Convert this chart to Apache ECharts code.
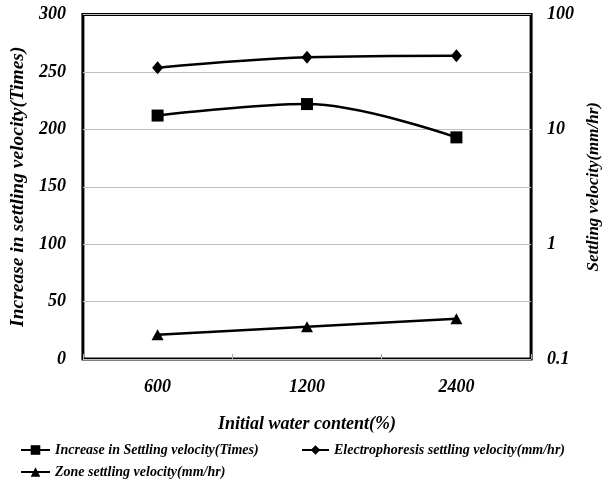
<!DOCTYPE html>
<html>
<head>
<meta charset="utf-8">
<script src="https://cdn.jsdelivr.net/npm/echarts@6/dist/echarts.min.js"></script>
<style>
  html, body { margin: 0; padding: 0; background: #fff; }
  #chart { width: 610px; height: 482px; }
</style>
</head>
<body>
<div id="chart"></div>
<script>
// categories (initial water content, %)
var waterContent = ['600', '1200', '2400'];
// left axis: increase in settling velocity (times)
var increaseTimes = [212, 222, 193];
// right axis (log): settling velocities, mm/hr
var electroVelocity = [34.4, 42.4, 43.8];
var zoneVelocity = [0.163, 0.191, 0.224];

var nameIncrease = 'Increase in Settling velocity(Times)';
var nameElectro = 'Electrophoresis settling velocity(mm/hr)';
var nameZone = 'Zone settling velocity(mm/hr)';

var serif = "'Liberation Serif', 'Times New Roman', serif";
var txt = function (size) {
  return { fontFamily: serif, fontStyle: 'italic', fontWeight: 'bold', fontSize: size, color: '#000' };
};

var chart = echarts.init(document.getElementById('chart'));
chart.setOption({
  animation: false,
  grid: {
    show: true,
    left: 79, right: 61, top: 14.5, bottom: 123,
    borderColor: '#000',
    borderWidth: 3
  },
  legend: [
    { data: [nameIncrease], left: 15, top: 438, itemWidth: 29, itemHeight: 12, itemGap: 0, textStyle: txt(14) },
    { data: [nameElectro], left: 296, top: 438, itemWidth: 27, itemHeight: 12, textStyle: txt(14) },
    { data: [nameZone], left: 15, top: 460, itemWidth: 29, itemHeight: 12, textStyle: txt(14) }
  ],
  xAxis: {
    type: 'category',
    data: waterContent,
    boundaryGap: true,
    name: 'Initial water content(%)',
    nameLocation: 'middle',
    nameGap: 56,
    nameTextStyle: txt(18),
    axisLine: { show: false },
    axisTick: { show: true, inside: true, length: 5, lineStyle: { color: '#aaa' } },
    axisLabel: Object.assign({ margin: 19 }, txt(18)),
    splitLine: { show: false }
  },
  yAxis: [
    {
      type: 'value',
      min: 0, max: 300, interval: 50,
      name: 'Increase in settling velocity(Times)',
      nameLocation: 'middle',
      nameRotate: 90,
      nameGap: 52,
      nameTextStyle: txt(19.5),
      axisLine: { show: false },
      axisTick: { show: false },
      axisLabel: Object.assign({ margin: 17 }, txt(18)),
      splitLine: { show: true, lineStyle: { color: '#c0c0c0', width: 1 } }
    },
    {
      type: 'log',
      logBase: 10,
      min: 0.1, max: 100,
      position: 'right',
      name: 'Settling velocity(mm/hr)',
      nameLocation: 'middle',
      nameRotate: 90,
      nameGap: 43,
      nameTextStyle: txt(17),
      axisLine: { show: false },
      axisTick: { show: false },
      axisLabel: Object.assign({ margin: 16 }, txt(18)),
      splitLine: { show: false }
    }
  ],
  series: [
    {
      name: nameIncrease,
      type: 'line',
      yAxisIndex: 0,
      data: increaseTimes,
      smooth: 0.35,
      symbol: 'rect',
      symbolSize: 12,
      lineStyle: { color: '#000', width: 2.5 },
      itemStyle: { color: '#000' }
    },
    {
      name: nameElectro,
      type: 'line',
      yAxisIndex: 1,
      data: electroVelocity,
      smooth: 0.35,
      symbol: 'diamond',
      symbolSize: [11, 13],
      lineStyle: { color: '#000', width: 2.5 },
      itemStyle: { color: '#000' }
    },
    {
      name: nameZone,
      type: 'line',
      yAxisIndex: 1,
      data: zoneVelocity,
      symbol: 'triangle',
      symbolSize: [12, 11],
      lineStyle: { color: '#000', width: 2.5 },
      itemStyle: { color: '#000' }
    }
  ]
});
</script>
</body>
</html>
